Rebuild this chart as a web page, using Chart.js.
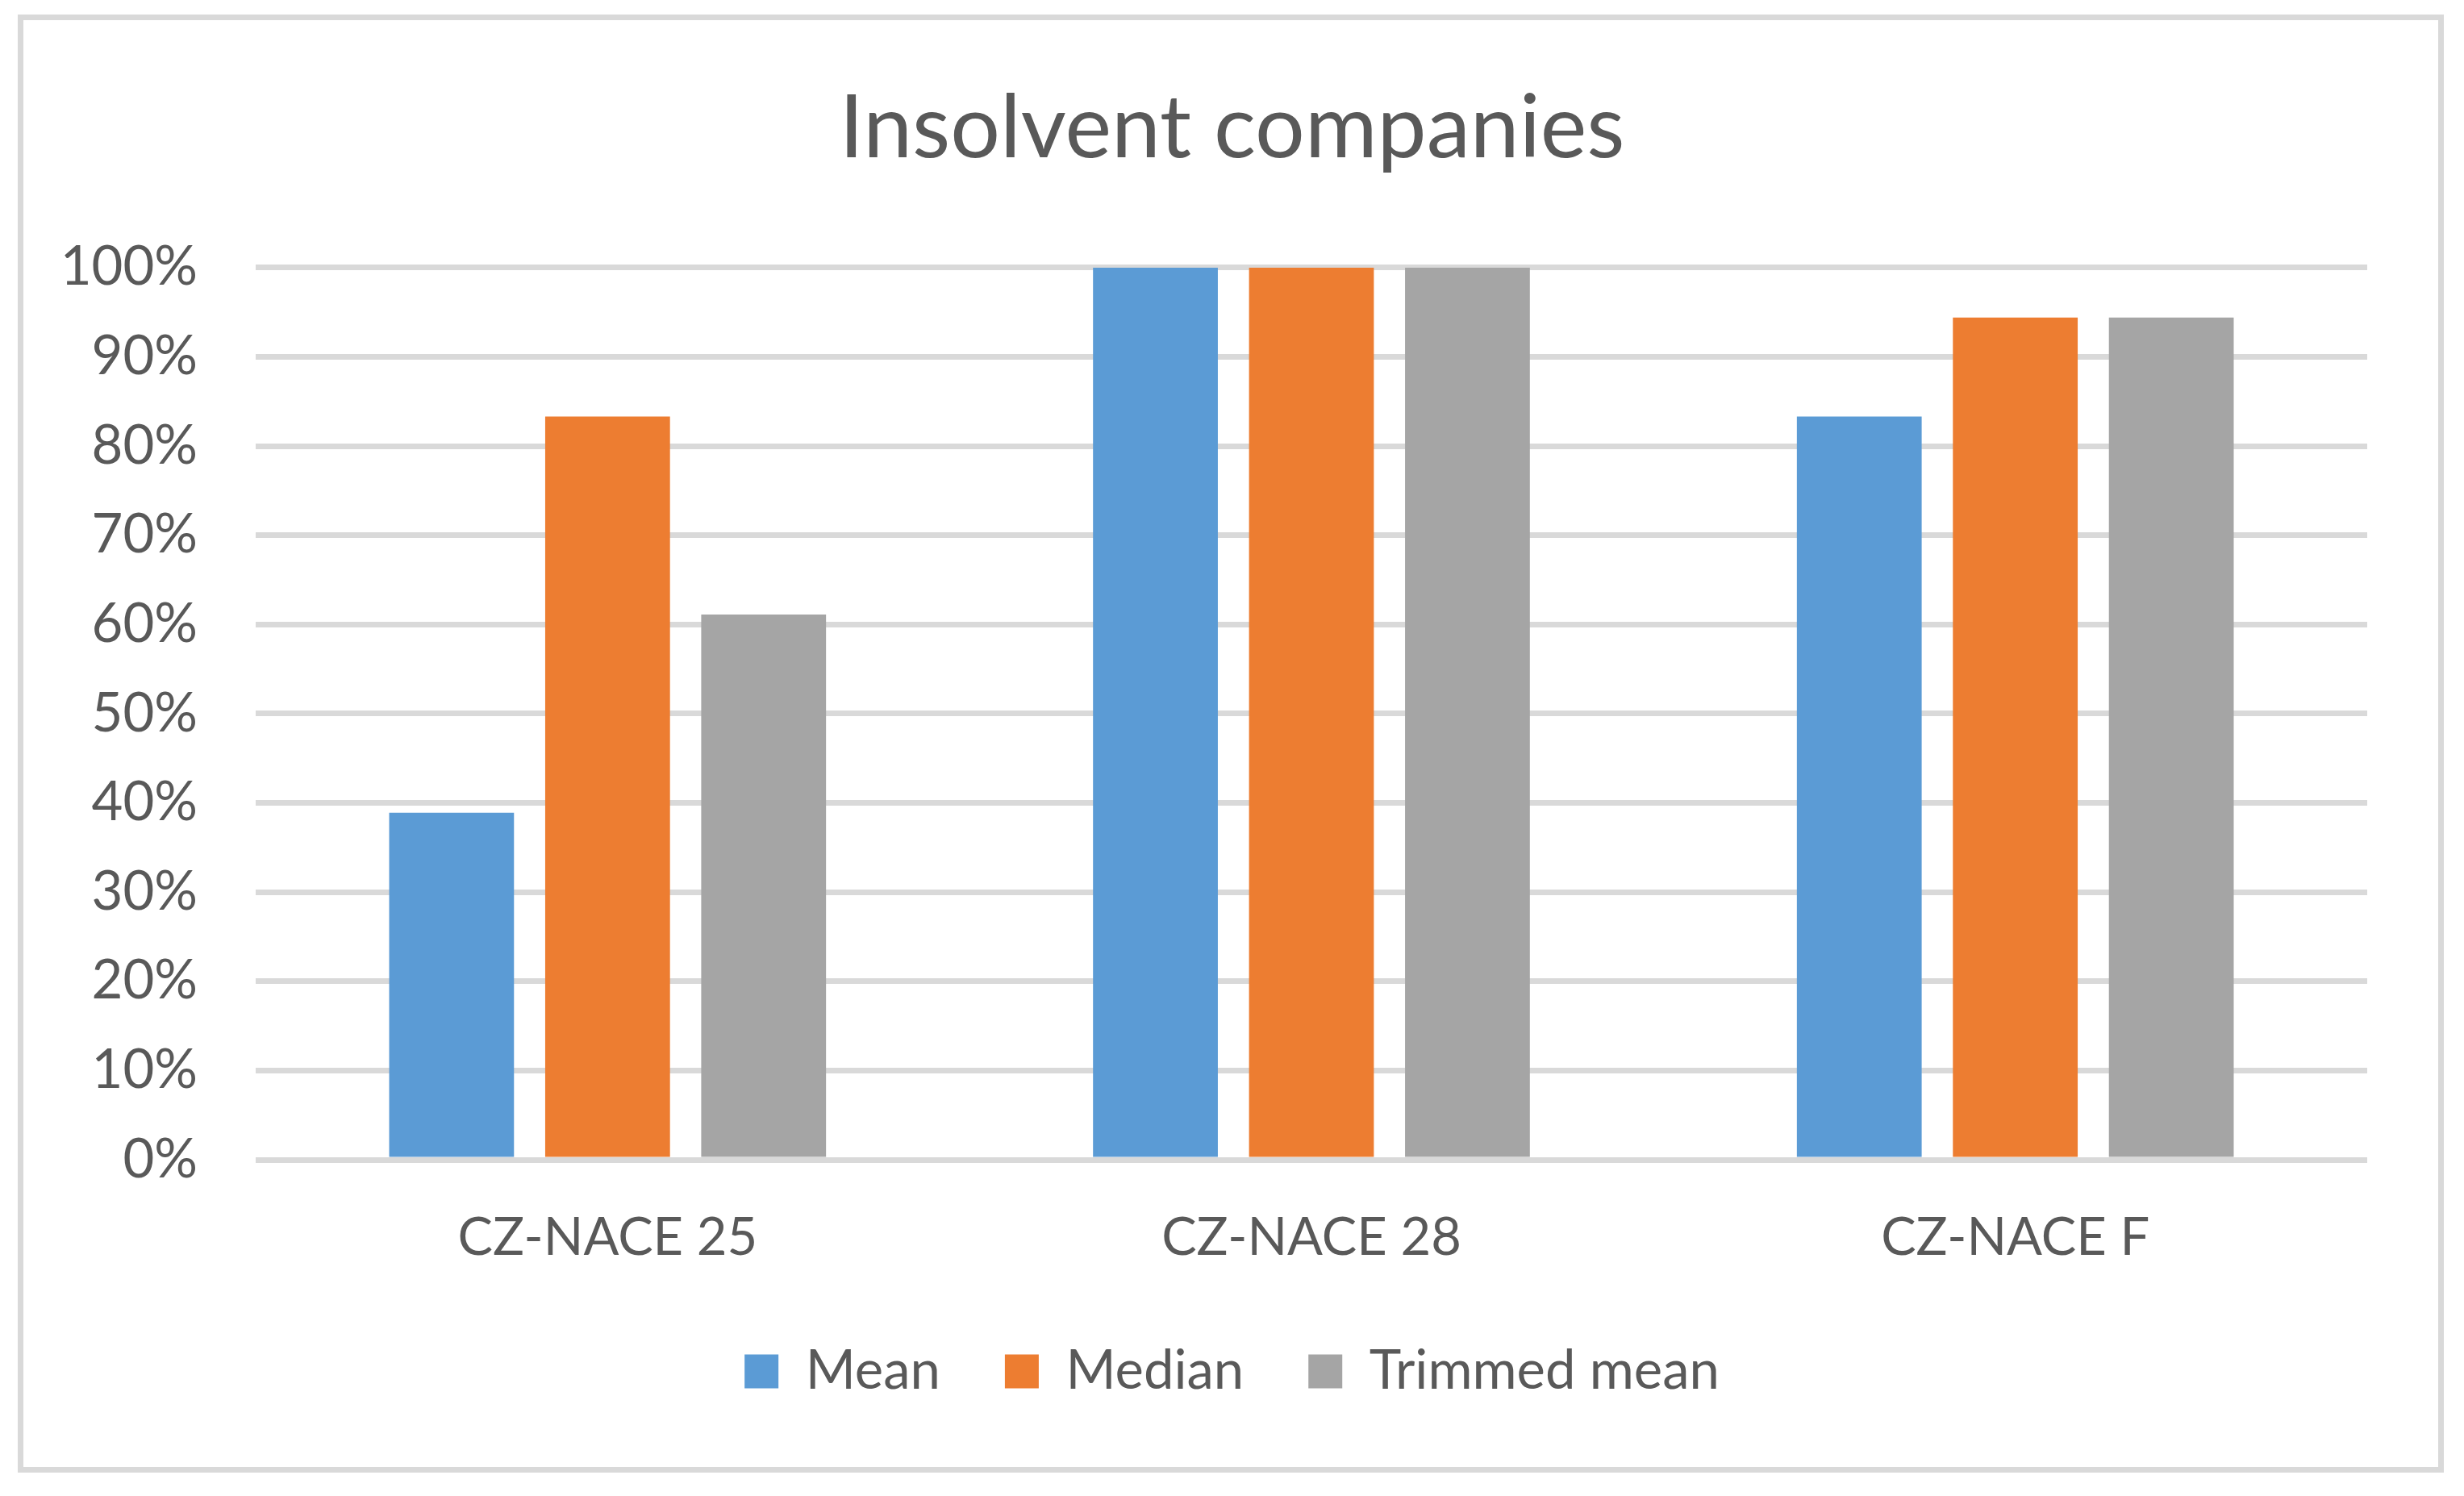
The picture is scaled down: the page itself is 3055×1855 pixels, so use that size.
<!DOCTYPE html>
<html>
<head>
<meta charset="utf-8">
<script src="https://cdn.jsdelivr.net/npm/chart.js@4"></script>
<style>
  html, body { margin: 0; padding: 0; background: #fff; overflow: hidden; }
  canvas { display: block; }
</style>
</head>
<body>
<canvas id="myChart" width="3055" height="1855" style="width:3055px;height:1855px"></canvas>
<script>
const categories = ['CZ-NACE 25', 'CZ-NACE 28', 'CZ-NACE F'];
const meanValues = [38.9, 100, 83.3];
const medianValues = [83.3, 100, 94.4];
const trimmedValues = [61.1, 100, 94.4];
const seriesNames = ['Mean', 'Median', 'Trimmed mean'];

const textColor = '#595959';
const fontName = 'Lato';

// outer frame like the Excel chart area
const framePlugin = {
    id: 'frame',
    beforeDraw(chart) {
        const ctx = chart.ctx;
        ctx.save();
        ctx.fillStyle = '#fff';
        ctx.fillRect(0, 0, chart.width, chart.height);
        ctx.strokeStyle = '#d9d9d9';
        ctx.lineWidth = 7;
        ctx.strokeRect(25.5, 21.5, 3001, 1801);
        ctx.restore();
    }
};

const ctx = document.getElementById('myChart').getContext('2d');
const myChart = new Chart(ctx, {
    type: 'bar',
    data: {
        labels: categories,
        datasets: [
            { label: seriesNames[0], data: meanValues, backgroundColor: '#5b9bd5' },
            { label: seriesNames[1], data: medianValues, backgroundColor: '#ed7d31' },
            { label: seriesNames[2], data: trimmedValues, backgroundColor: '#a5a5a5' }
        ]
    },
    options: {
        responsive: false,
        maintainAspectRatio: false,
        animation: false,
        devicePixelRatio: 1,
        categoryPercentage: 0.665,
        barPercentage: 0.8,
        layout: { padding: { top: 94, right: 0, bottom: 111, left: 0 } },
        plugins: {
            title: {
                display: true,
                text: 'Insolvent companies',
                color: textColor,
                font: { family: fontName, size: 109, weight: 'normal' },
                padding: { top: 0, bottom: 107 }
            },
            legend: {
                position: 'bottom',
                labels: {
                    color: textColor,
                    font: { family: fontName, size: 67 },
                    boxWidth: 42,
                    boxHeight: 42,
                    padding: 80
                }
            },
            tooltip: { enabled: false }
        },
        scales: {
            x: {
                grid: { display: false },
                border: { display: false },
                ticks: { color: textColor, font: { family: fontName, size: 65 }, padding: 50 },
                afterFit: function(scale) { scale.height = 149; }
            },
            y: {
                min: 0,
                max: 100,
                grid: { color: '#d9d9d9', lineWidth: 7, drawTicks: false },
                border: { display: false },
                ticks: {
                    stepSize: 10,
                    autoSkip: false,
                    color: textColor,
                    font: { family: fontName, size: 67 },
                    padding: 72,
                    callback: function(v) { return v + '%'; }
                },
                afterFit: function(scale) { scale.width = 317; }
            },
            // empty axis on the right, keeps the plot off the right edge
            // while the title and legend stay centred on the whole canvas
            yRight: {
                position: 'right',
                grid: { display: false },
                border: { display: false },
                ticks: { display: false },
                afterFit: function(scale) { scale.width = 120; }
            }
        }
    },
    plugins: [framePlugin]
});
</script>
</body>
</html>
